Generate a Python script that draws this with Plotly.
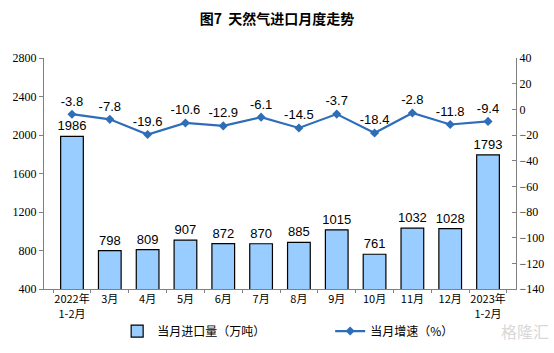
import plotly.graph_objects as go

categories = ["2022年<br>1-2月", "3月", "4月", "5月", "6月", "7月", "8月", "9月", "10月", "11月", "12月", "2023年<br>1-2月"]
imports = [1986, 798, 809, 907, 872, 870, 885, 1015, 761, 1032, 1028, 1793]
growth = [-3.8, -7.8, -19.6, -10.6, -12.9, -6.1, -14.5, -3.7, -18.4, -2.8, -11.8, -9.4]
left_ticks = [400, 800, 1200, 1600, 2000, 2400, 2800]
right_ticks = [-140, -120, -100, -80, -60, -40, -20, 0, 20, 40]

cjk = "Noto Sans CJK SC"
serif = "Liberation Serif"
sans = "Liberation Sans, Arial"

fig = go.Figure()
fig.add_trace(go.Bar(
    x=categories, y=imports, name="当月进口量（万吨）",
    marker=dict(color="#99CCFF", line=dict(color="#000000", width=1.2)),
    text=[str(v) for v in imports], textposition="outside", textangle=0,
    constraintext="none",
    textfont=dict(family=sans, size=13, color="#000"),
    cliponaxis=False,
))
fig.add_trace(go.Scatter(
    x=categories, y=growth, name="当月增速（%）", yaxis="y2",
    mode="lines+markers+text",
    line=dict(color="#2E6DB8", width=2.2),
    marker=dict(symbol="diamond", size=7, color="#2E6DB8"),
    text=[f"{v:.1f}" for v in growth], textposition="top center",
    textfont=dict(family=sans, size=13, color="#000"),
    cliponaxis=False,
))

fig.update_layout(
    width=554, height=353,
    margin=dict(l=44, r=38, t=58, b=64, autoexpand=False),
    paper_bgcolor="white", plot_bgcolor="white",
    title=dict(text="<b>图7  天然气进口月度走势</b>", x=0.5, xanchor="center", y=0.945, yanchor="middle",
               font=dict(family=cjk, size=14, color="#000")),
    bargap=0.4,
    showlegend=True,
    legend=dict(orientation="h", x=0.155, xanchor="left", y=-0.182, yanchor="middle",
                font=dict(family=cjk, size=12, color="#000"), entrywidth=168, entrywidthmode="pixels",
                traceorder="normal", itemwidth=30, bgcolor="rgba(0,0,0,0)"),
    xaxis=dict(showline=True, linecolor="#808080", linewidth=1, ticks="outside", ticklen=3,
               tickcolor="#808080", tickson="boundaries", tickangle=0,
               tickfont=dict(family=cjk, size=11, color="#000"), showgrid=False),
    yaxis=dict(range=[400, 2800], tickvals=left_ticks, showline=True, linecolor="#808080", linewidth=1,
               ticks="outside", ticklen=4, tickcolor="#808080", showgrid=False, zeroline=False,
               tickfont=dict(family=serif, size=12, color="#000")),
    yaxis2=dict(range=[-140, 40], tickvals=right_ticks, overlaying="y", side="right", showline=True,
                linecolor="#808080", linewidth=1, ticks="inside", ticklen=4, tickcolor="#808080",
                showgrid=False, zeroline=False, tickfont=dict(family=serif, size=12, color="#000")),
)
fig.add_annotation(text="格隆汇", xref="paper", yref="paper", x=1.075, y=-0.182, xanchor="right", yanchor="middle",
                   showarrow=False, font=dict(family=cjk, size=16, color="#D8D8D8"))
fig.write_html("out.html")
